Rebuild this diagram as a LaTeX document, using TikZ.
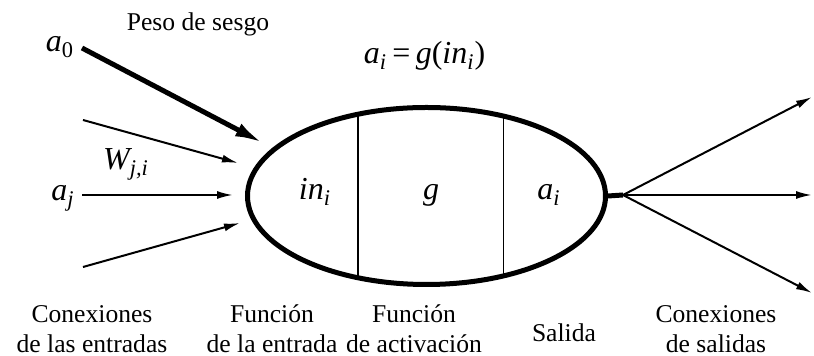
\documentclass[tikz,border=0pt]{standalone}
\usepackage{fontspec}
\setmainfont{Liberation Serif}
\usetikzlibrary{shapes,arrows.meta,positioning,calc}
\newcommand{\up}[1]{{\upshape #1}}

\begin{document}
\begin{tikzpicture}[
    x=0.5pt,y=-0.5pt,
    neuron/.style = {ellipse,draw,line width=2.5pt,minimum width=179pt,
                     minimum height=88.5pt,inner sep=0pt},
    part/.style   = {line width=0.8pt},
    lbl/.style    = {font=\fontsize{12.8}{15}\selectfont,align=center,inner sep=0pt},
    mth/.style    = {font=\fontsize{16}{19}\selectfont\itshape,inner sep=1pt},
    fl/.style     = {-{Latex[length=8pt,width=4pt]},line width=1pt},
    bias/.style   = {-{Latex[length=14pt,width=7pt]},line width=2.5pt},
  ]
  \useasboundingbox (0,0) rectangle (814,356);

  % the unit
  \node[neuron] (n) at (426.5,196) {};
  \draw[part] (n.129) -- (n.231);
  \draw[part] (n.47.7) -- (n.-47.7);

  \node[mth,anchor=base] (inp) at (315,200) {in\textsubscript{i}};
  \node[mth,anchor=base] (act) at (431,200) {g};
  \node[mth,anchor=base] (res) at (549,200) {a\textsubscript{i}};

  % inputs
  \node[mth,anchor=base] (a0) at (60,52)  {a\textsubscript{\up{0}}};
  \node[mth,anchor=base] (aj) at (63,201) {a\textsubscript{j}};
  \node[mth,anchor=base] (w)  at (126,170) {W\textsubscript{j,i}};

  \coordinate (t0) at (263,143);
  \coordinate (s1) at (83,120);  \coordinate (t1) at (238,163);
  \coordinate (tj) at (233,195);
  \coordinate (s3) at (83,267);  \coordinate (t3) at (240,223);

  \draw[bias] ([shift={(2.75pt,2pt)}]a0.base east) -- (t0);
  \draw[fl] (s1) -- (t1);
  \draw[fl] (aj.east |- tj) ++(2.5pt,0) -- (tj);
  \draw[fl] (s3) -- (t3);

  % outputs
  \coordinate (hub) at (623,195);
  \coordinate (o1) at (812,97);
  \coordinate (o2) at (812,195);
  \coordinate (o3) at (812,293);
  \draw[line width=2.5pt] (n.east) -- (hub);
  \foreach \t in {o1,o2,o3} \draw[fl] (hub) -- (\t);

  % captions
  \node[lbl] (bias) at (198,24) {Peso de sesgo};
  \node[mth,anchor=base] (eq) at (424.5,64)
       {a\textsubscript{i}\,\up{=}\,g\up{(}in\textsubscript{i}\up{)}};

  \node[lbl] (c1) at (92,329)  {Conexiones\\de las entradas};
  \node[lbl] (c2) at (272,329) {Función\\de la entrada};
  \node[lbl] (c3) at (414,329) {Función\\de activación};
  \node[lbl] (c4) at (564,333) {Salida};
  \node[lbl] (c5) at (716,329) {Conexiones\\de salidas};

\end{tikzpicture}
\end{document}
